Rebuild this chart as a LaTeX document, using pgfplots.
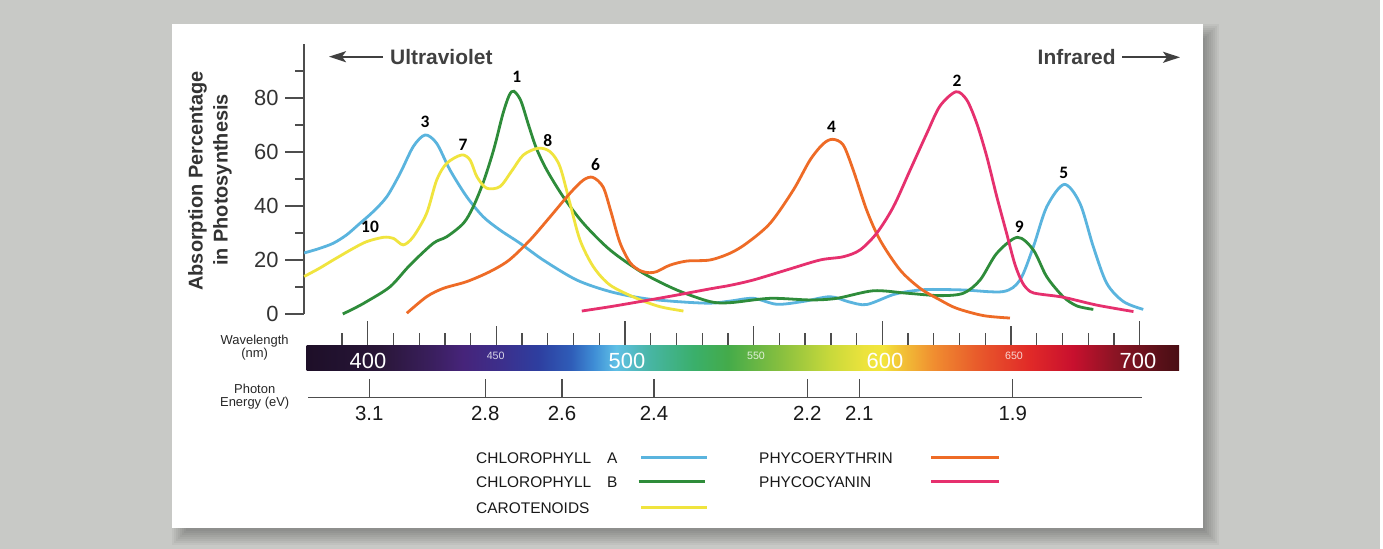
\documentclass[border=0pt]{standalone}
\usepackage{fontspec}
\setmainfont{Liberation Sans}
\newfontfamily\carlito{Carlito}
\usepackage{pgfplots}
\pgfplotsset{compat=1.18}
\usetikzlibrary{arrows.meta}

\definecolor{bg}{HTML}{C8C9C6}
\definecolor{chla}{HTML}{5AB4DE}
\definecolor{chlb}{HTML}{2E8C3A}
\definecolor{caro}{HTML}{F0E43E}
\definecolor{phe}{HTML}{EE6B26}
\definecolor{phc}{HTML}{E6306E}
\definecolor{axc}{HTML}{4D4D4D}
\definecolor{txt}{HTML}{333333}
\definecolor{uvc}{HTML}{404040}

\definecolor{sp0}{HTML}{1E0F28}
\definecolor{sp1}{HTML}{221230}
\definecolor{sp2}{HTML}{2A1638}
\definecolor{sp3}{HTML}{3A1F5E}
\definecolor{sp4}{HTML}{46247A}
\definecolor{sp5}{HTML}{3C2F8C}
\definecolor{sp6}{HTML}{2E3E9F}
\definecolor{sp7}{HTML}{2F5DB8}
\definecolor{sp8}{HTML}{3F8ED6}
\definecolor{sp9}{HTML}{5FC0E6}
\definecolor{sp10}{HTML}{47B5A2}
\definecolor{sp11}{HTML}{3AAF6A}
\definecolor{sp12}{HTML}{44AB4A}
\definecolor{sp13}{HTML}{86BF3F}
\definecolor{sp14}{HTML}{C9D93B}
\definecolor{sp15}{HTML}{ECE33C}
\definecolor{sp16}{HTML}{F3E63C}
\definecolor{sp17}{HTML}{F2C837}
\definecolor{sp18}{HTML}{F08D30}
\definecolor{sp19}{HTML}{E85A2B}
\definecolor{sp20}{HTML}{E12A28}
\definecolor{sp21}{HTML}{C8102E}
\definecolor{sp22}{HTML}{8C1424}
\definecolor{sp23}{HTML}{561018}
\definecolor{sp24}{HTML}{4A0E14}

\pgfdeclarehorizontalshading{spectrum}{100bp}{color(0bp)=(sp0); color(25bp)=(sp0);
 color(27.02bp)=(sp1); color(29.23bp)=(sp2); color(32.18bp)=(sp3); color(33.95bp)=(sp4);
 color(36.17bp)=(sp5); color(38.23bp)=(sp6); color(40.15bp)=(sp7); color(41.48bp)=(sp8);
 color(42.74bp)=(sp9); color(44.72bp)=(sp10); color(47.23bp)=(sp11); color(49.14bp)=(sp12);
 color(52.09bp)=(sp13); color(55.04bp)=(sp14); color(56.96bp)=(sp15); color(58.00bp)=(sp16);
 color(58.88bp)=(sp17); color(60.95bp)=(sp18); color(63.45bp)=(sp19); color(66.40bp)=(sp20);
 color(68.91bp)=(sp21); color(71.27bp)=(sp22); color(74.07bp)=(sp23); color(75bp)=(sp24);
 color(100bp)=(sp24)}

\begin{document}
\begin{tikzpicture}[x=1bp,y=1bp]
\path[use as bounding box] (0,0) rectangle (1383,549);
\fill[bg] (0,0) rectangle (1383,549);
\fill[white] (1380,0) rectangle (1383,549);
% soft shadow right and below the card
\foreach \e in {0,2,...,14}{
  \fill[black, opacity=0.04] ({186-\e},{18.3-\e}) rectangle ({1205+\e},{511+\e});
}
\fill[white] (172,21.3) rectangle (1203,525);

\begin{axis}[
  at={(304bp,235bp)}, anchor=south west,
  scale only axis, width=876bp, height=270bp,
  xmin=375.24, xmax=715.70, ymin=0, ymax=100,
  clip=false,
  axis x line=none,
  axis y line*=left,
  y axis line style={axc, line width=1.4bp},
  ytick={0,20,40,60,80},
  minor ytick={10,30,50,70,90},
  tick align=outside,
  major tick length=19bp, minor tick length=9bp,
  every tick/.style={axc, line width=1.4bp},
  yticklabel style={font=\fontsize{22}{22}\selectfont, text=txt, xshift=-3bp, /pgf/number format/assume math mode=true},
  xtick=\empty,
  every axis plot/.append style={line width=2.8bp, smooth, no markers},
]
% Chlorophyll A
\addplot[chla] coordinates {(375.3,22.6) (381,24.2) (386.6,26.2) (391.8,29.3) (397,33.6) (402,37.8) (407.4,43.4) (412.6,52.1) (417.7,62) (422.3,66.3) (426.8,63.2) (432,53.3) (438.5,43.4) (444.9,36) (451.4,31.1) (459.2,26.2) (468.2,20) (481.2,12.6) (494.2,8.3) (507.1,5.8) (520.1,4.6) (533,4) (541,4.8) (549.9,5.8) (559,3.6) (569,4.6) (579.7,6.4) (587,4.5) (593.9,3.5) (604.3,7.2) (612,8.6) (618.5,9.1) (631.5,8.9) (647,8.3) (653.5,12.6) (658.7,24.9) (663.9,39.7) (670.7,48) (676.8,41) (682,24.9) (687.2,11.4) (693.7,4.6) (701.4,1.7)};
% Chlorophyll B
\addplot[chlb] coordinates {(390.3,0) (395,2.2) (399.6,4.6) (408.7,10.1) (416.4,18.1) (425.5,26.2) (430.7,28.6) (437.2,33.6) (441,39.7) (445,49) (449,61) (452.5,74) (455,81) (456.8,82.5) (459.5,79) (462.5,70) (465.5,61.5) (469.6,53.3) (476,43.4) (483.8,33.6) (494.2,23.7) (507.1,15.1) (520.1,8.9) (533,4.6) (541,4.2) (556.4,5.8) (571.9,5.2) (582.3,5.8) (596.5,8.6) (609.5,7.7) (622.4,6.8) (631.5,7.7) (638,12.6) (644.5,22.5) (652.5,28.4) (658.7,23.7) (663.9,13.8) (670.3,6.4) (675.6,3) (682,1.7)};
% Carotenoids
\addplot[caro] coordinates {(375.3,13.9) (381,16.8) (386.6,20) (394.4,24.3) (399.6,26.8) (406.1,28.4) (410,28) (413.8,25.6) (417.7,28.6) (422.9,37.3) (426.8,49.6) (430.7,55.8) (436.5,58.9) (439.8,57) (442.4,50.9) (446.2,46.6) (451.4,47.2) (456,53) (460.5,58.9) (466.3,61.4) (470.9,60.1) (474.7,54.6) (478.6,41) (482.5,27.4) (487.7,17.5) (494.2,10.7) (504.5,5.8) (513.6,2.7) (522.7,1.1)};
% Phycoerythrin
\addplot[phe] coordinates {(415.2,0.3) (422.9,6.4) (429.4,9.5) (438.5,12) (447.5,15.7) (455,20) (463.1,27.4) (470.9,36) (478.6,44.7) (483.8,49.6) (487.5,50.6) (491.5,47) (494.5,38) (498,26.5) (502,19) (506,16) (509.5,15.3) (512.3,15.7) (517.5,18.1) (524,19.6) (533,20) (540.8,22.5) (547.3,26.2) (556.4,33.6) (565.4,45.9) (571.9,57) (577,63) (580.7,64.7) (584.8,62.6) (588.7,53.3) (593.9,38.5) (599.1,27.4) (606.9,16.3) (614.7,9.5) (622.4,5.2) (628.9,2.1) (639.3,-0.6) (649.6,-1.5)};
% Phycocyanin
\addplot[phc] coordinates {(483.2,1.1) (494.2,2.7) (507.1,4.8) (520.1,7) (533,9.3) (540.8,10.6) (549.9,12.6) (562.8,16.3) (575.8,20) (584.8,21.2) (591.3,23.7) (597.8,29.9) (604.3,39.7) (610.8,53.3) (617.3,66.9) (622.4,77) (628.6,82.3) (632.8,79.3) (636.7,70.6) (640.6,58.3) (644.5,43.4) (648.3,29.9) (651.5,18.5) (654.5,11.5) (657.5,8.3) (661,7.4) (670.3,6.2) (683.3,3.3) (697.6,0.9)};

\begin{scope}[every node/.style={font=\carlito\bfseries\fontsize{17.5}{17.5}\selectfont, text=black, inner sep=0}]
\node at (axis cs:457.9,87.7) {1};
\node at (axis cs:629.0,86.3) {2};
\node at (axis cs:422.3,71.1) {3};
\node at (axis cs:580.3,69.3) {4};
\node at (axis cs:670.5,52.4) {5};
\node at (axis cs:488.5,55.4) {6};
\node at (axis cs:437.0,62.6) {7};
\node at (axis cs:470.0,64.1) {8};
\node at (axis cs:653.2,32.4) {9};
\node at (axis cs:400.9,32.4) {10};
\end{scope}
\end{axis}

% y label
\node[rotate=90, anchor=base, inner sep=0, font=\bfseries\fontsize{20}{20}\selectfont, text=txt] at (202.7,368) {Absorption Percentage};
\node[rotate=90, anchor=base, inner sep=0, font=\bfseries\fontsize{20}{20}\selectfont, text=txt] at (227.6,369) {in Photosynthesis};

% Ultraviolet / Infrared
\node[anchor=west, inner sep=0, font=\bfseries\fontsize{21}{21}\selectfont, text=uvc] at (390,492.3) {Ultraviolet};
\draw[uvc, line width=2bp, -{Stealth[length=17bp,width=11bp,inset=4bp]}] (383,492.3) -- (329,492.3);
\node[anchor=west, inner sep=0, font=\bfseries\fontsize{21}{21}\selectfont, text=uvc] at (1037.5,491.7) {Infrared};
\draw[uvc, line width=2bp, -{Stealth[length=17bp,width=11bp,inset=4bp]}] (1122,491.7) -- (1180,491.7);

% wavelength ticks and spectrum bar
\draw[axc!60, line width=0.8bp] (341,204) -- (1141,204);
\foreach \w in {390,400,...,700}{
  \pgfmathsetmacro\xx{367.7+(\w-400)*2.573}
  \pgfmathsetmacro\tp{ifthenelse(mod(\w,100)==0,228,ifthenelse(mod(\w,50)==0,223,216.3))}
  \draw[axc, line width=1.3bp] (\xx,203.5) -- (\xx,\tp);
}
\shade[shading=spectrum] (306.7,178) rectangle (1179,203);
\foreach \xp/\lab in {368/400,627/500,885/600,1138/700}{
  \node[text=white, inner sep=0, font=\fontsize{22}{22}\selectfont] at (\xp,187.7) {\lab};
}
\foreach \xp/\lab in {495.7/450,756/550,1014/650}{
  \node[text=white, text opacity=0.8, inner sep=0, font=\fontsize{10.7}{10.7}\selectfont] at (\xp,193.5) {\lab};
}
\node[anchor=base, inner sep=0, font=\fontsize{13}{13}\selectfont, text=black!85] at (254.7,204) {Wavelength};
\node[anchor=base, inner sep=0, font=\fontsize{13}{13}\selectfont, text=black!85] at (254.7,191.5) {(nm)};

% photon energy axis
\node[anchor=base, inner sep=0, font=\fontsize{13}{13}\selectfont, text=black!85] at (254.7,155.7) {Photon};
\node[anchor=base, inner sep=0, font=\fontsize{13}{13}\selectfont, text=black!85] at (254.7,142.3) {Energy (eV)};
\draw[axc, line width=1.3bp] (308,151.3) -- (1141.7,151.3);
\foreach \xp/\lab in {369.3/3.1,485.3/2.8,562/2.6,654/2.4,807.3/2.2,859.3/2.1,1012.7/1.9}{
  \draw[axc, line width=1.3bp] (\xp,151.3) -- (\xp,170);
  \node[inner sep=0, font=\fontsize{20.5}{20.5}\selectfont, text=black!90] at (\xp,136) {\lab};
}

% legend
\begin{scope}[every node/.style={anchor=base west, inner sep=0, font=\fontsize{15.5}{15.5}\selectfont, text=black!90}]
\node at (476,85.45) {CHLOROPHYLL};
\node at (607,85.45) {A};
\node at (476,61.45) {CHLOROPHYLL};
\node at (607,61.45) {B};
\node at (476,35.75) {CAROTENOIDS};
\node at (759,85.45) {PHYCOERYTHRIN};
\node at (759,61.45) {PHYCOCYANIN};
\end{scope}
\draw[chla, line width=3bp] (641,91) -- (707,91);
\draw[chlb, line width=3bp] (638.7,67) -- (705,67);
\draw[caro, line width=3bp] (641,41.3) -- (707,41.3);
\draw[phe, line width=3bp] (931,91) -- (999,91);
\draw[phc, line width=3bp] (931,67) -- (999,67);
\end{tikzpicture}
\end{document}
